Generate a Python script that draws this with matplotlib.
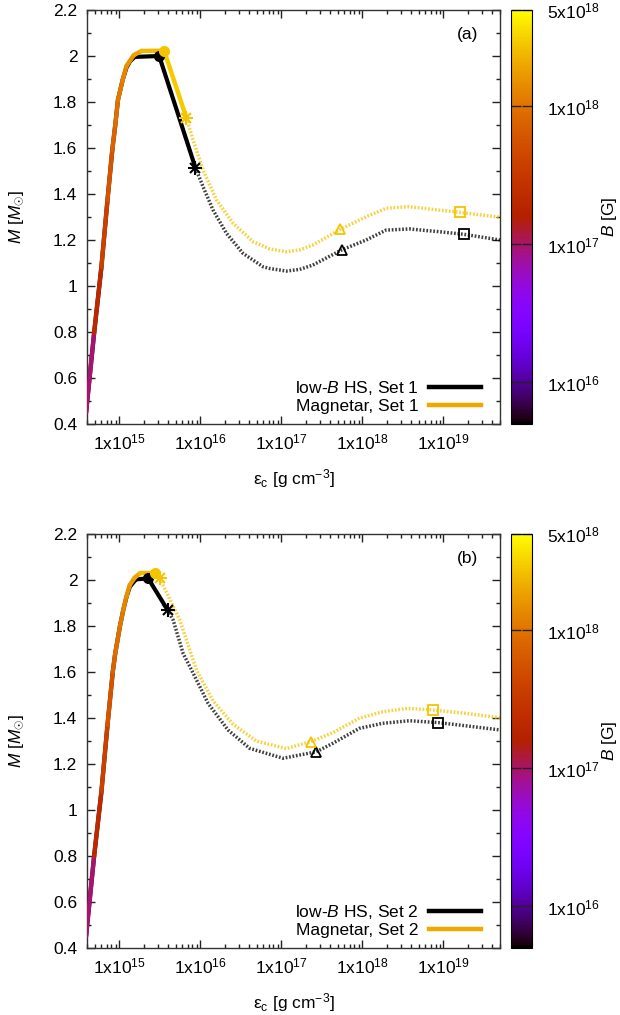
import numpy as np
import matplotlib
matplotlib.use("Agg")
import matplotlib.pyplot as plt
from matplotlib.collections import LineCollection
from matplotlib.colors import LogNorm
from matplotlib.lines import Line2D
from matplotlib.cm import ScalarMappable
import matplotlib.ticker as mticker

plt.rcParams["font.family"] = ["Liberation Sans", "DejaVu Sans"]
plt.rcParams["mathtext.fontset"] = "custom"
plt.rcParams["mathtext.rm"] = "Liberation Sans"
plt.rcParams["mathtext.it"] = "Liberation Sans:italic"
plt.rcParams["mathtext.bf"] = "Liberation Sans:bold"

# ---------------- panel (a): Set 1 ----------------
a_hs_stable_logeps = [14.59, 14.69, 14.78, 14.855, 14.914, 14.951, 14.984, 15.042, 15.09, 15.132, 15.19, 15.493, 15.941]
a_hs_stable_M = [0.448, 0.796, 1.083, 1.374, 1.591, 1.700, 1.809, 1.896, 1.950, 1.976, 1.996, 2.000, 1.513]
a_mag_stable_logeps = [14.59, 14.69, 14.78, 14.855, 14.914, 14.951, 14.984, 15.042, 15.09, 15.18, 15.276, 15.554, 15.83]
a_mag_stable_M = [0.448, 0.796, 1.083, 1.374, 1.591, 1.700, 1.809, 1.896, 1.957, 2.004, 2.022, 2.023, 1.730]
a_mag_stable_B = [6e16, 1.5e17, 3e17, 5e17, 7e17, 8.5e17, 1e18, 1.2e18, 1.4e18, 1.7e18, 2.1e18, 2.8e18, 3.2e18]

a_hs_unstable_logeps = [15.941, 16.034, 16.158, 16.323, 16.527, 16.773, 16.858, 17.062, 17.225, 17.389, 17.746, 18.047, 18.293, 18.58, 18.95, 19.249, 19.70]
a_hs_unstable_M = [1.513, 1.432, 1.330, 1.229, 1.142, 1.084, 1.076, 1.065, 1.072, 1.091, 1.157, 1.200, 1.243, 1.248, 1.236, 1.225, 1.200]
a_mag_unstable_logeps = [15.83, 15.911, 16.034, 16.2, 16.404, 16.65, 16.858, 17.062, 17.225, 17.389, 17.727, 18.047, 18.293, 18.571, 18.95, 19.208, 19.70]
a_mag_unstable_M = [1.730, 1.635, 1.504, 1.374, 1.273, 1.193, 1.161, 1.149, 1.157, 1.178, 1.246, 1.301, 1.338, 1.345, 1.330, 1.320, 1.299]

# markers: maximum mass, end of stable branch, triangle, square
a_hs_marks_logeps = [15.493, 15.941, 17.746, 19.249]
a_hs_marks_M = [2.000, 1.513, 1.157, 1.225]
a_mag_marks_logeps = [15.554, 15.83, 17.727, 19.208]
a_mag_marks_M = [2.023, 1.730, 1.246, 1.320]

# ---------------- panel (b): Set 2 ----------------
b_hs_stable_logeps = [14.59, 14.69, 14.78, 14.855, 14.92, 14.95, 15.009, 15.05, 15.09, 15.13, 15.19, 15.214, 15.357, 15.596]
b_hs_stable_M = [0.45, 0.80, 1.08, 1.37, 1.60, 1.68, 1.80, 1.87, 1.927, 1.97, 1.996, 2.003, 2.007, 1.870]
b_mag_stable_logeps = [14.59, 14.69, 14.78, 14.855, 14.92, 14.95, 15.009, 15.05, 15.09, 15.13, 15.19, 15.255, 15.44, 15.50]
b_mag_stable_M = [0.45, 0.80, 1.08, 1.37, 1.60, 1.68, 1.80, 1.87, 1.93, 1.978, 2.01, 2.029, 2.029, 2.007]
b_mag_stable_B = [6e16, 1.5e17, 3e17, 5e17, 7e17, 8.5e17, 1e18, 1.2e18, 1.4e18, 1.6e18, 1.8e18, 2.2e18, 2.8e18, 3.0e18]

b_hs_unstable_logeps = [15.596, 15.665, 15.788, 15.892, 16.096, 16.342, 16.61, 17.02, 17.431, 17.636, 17.964, 18.25, 18.58, 18.937, 19.28, 19.70]
b_hs_unstable_M = [1.870, 1.826, 1.681, 1.609, 1.464, 1.348, 1.268, 1.225, 1.253, 1.290, 1.355, 1.377, 1.388, 1.380, 1.366, 1.348]
b_mag_unstable_logeps = [15.50, 15.747, 15.953, 16.158, 16.404, 16.692, 17.062, 17.361, 17.636, 17.964, 18.25, 18.559, 18.867, 19.28, 19.70]
b_mag_unstable_M = [2.007, 1.826, 1.609, 1.474, 1.373, 1.300, 1.267, 1.297, 1.336, 1.399, 1.427, 1.442, 1.435, 1.420, 1.401]

b_hs_marks_logeps = [15.357, 15.596, 17.431, 18.937]
b_hs_marks_M = [2.007, 1.870, 1.253, 1.380]
b_mag_marks_logeps = [15.44, 15.50, 17.361, 18.867]
b_mag_marks_M = [2.029, 2.007, 1.297, 1.435]

# ---------------- axis / colour bar settings ----------------
x_limits = (4e14, 5e19)
y_limits = (0.4, 2.2)
x_ticks = [1e15, 1e16, 1e17, 1e18, 1e19]
x_ticklabels = ["1x10$^{15}$", "1x10$^{16}$", "1x10$^{17}$", "1x10$^{18}$", "1x10$^{19}$"]
b_limits = (5e15, 5e18)
cb_ticks = [1e16, 1e17, 1e18, 5e18]
cb_ticklabels = ["1x10$^{16}$", "1x10$^{17}$", "1x10$^{18}$", "5x10$^{18}$"]

HS_COLOR = "black"
MAG_COLOR = "#f4c400"
LEGEND_MAG_COLOR = "#f0a800"
FS = 12.5
cmap = plt.get_cmap("gnuplot")
norm = LogNorm(*b_limits)

W, H = 620, 1015
fig = plt.figure(figsize=(W / 100, H / 100), dpi=100)


def px_axes(left, top, right, bottom):
    return [left / W, 1 - bottom / H, (right - left) / W, (bottom - top) / H]


def draw_panel(ax, cax, tag, set_name,
               hs_s_x, hs_s_y, mag_s_x, mag_s_y, mag_s_b,
               hs_u_x, hs_u_y, mag_u_x, mag_u_y,
               hs_m_x, hs_m_y, mag_m_x, mag_m_y):
    hs_s_x = 10.0 ** np.array(hs_s_x)
    mag_s_x = 10.0 ** np.array(mag_s_x)
    hs_u_x = 10.0 ** np.array(hs_u_x)
    mag_u_x = 10.0 ** np.array(mag_u_x)
    hs_m_x = 10.0 ** np.array(hs_m_x)
    mag_m_x = 10.0 ** np.array(mag_m_x)

    dots = (0, (0.5, 0.5))
    ax.plot(hs_u_x, hs_u_y, color=HS_COLOR, lw=2.5, ls=dots, alpha=0.75, zorder=2)
    ax.plot(mag_u_x, mag_u_y, color=MAG_COLOR, lw=2.5, ls=dots, alpha=0.75, zorder=2)

    ax.plot(hs_s_x, hs_s_y, color=HS_COLOR, lw=3.0, zorder=3, solid_capstyle="round")

    pts = np.column_stack([mag_s_x, mag_s_y])
    segs = np.stack([pts[:-1], pts[1:]], axis=1)
    seg_b = np.sqrt(np.array(mag_s_b[:-1]) * np.array(mag_s_b[1:]))
    lc = LineCollection(segs, cmap=cmap, norm=norm, linewidths=3.2,
                        capstyle="round", joinstyle="round", zorder=4)
    lc.set_array(seg_b)
    ax.add_collection(lc)

    for col, mx, my, z in ((HS_COLOR, hs_m_x, hs_m_y, 5), (MAG_COLOR, mag_m_x, mag_m_y, 6)):
        ax.plot(mx[0], my[0], "o", color=col, ms=7, zorder=z)
        ax.plot(mx[1], my[1], "+", color=col, ms=10, mew=1.5, zorder=z)
        ax.plot(mx[1], my[1], "x", color=col, ms=7, mew=1.5, zorder=z)
        ax.plot(mx[2], my[2], "^", mfc="none", mec=col, ms=7.5, mew=1.3, zorder=z)
        ax.plot(mx[3], my[3], "s", mfc="none", mec=col, ms=7, mew=1.3, zorder=z)

    ax.set_xscale("log")
    ax.set_xlim(*x_limits)
    ax.set_ylim(*y_limits)
    ax.set_xticks(x_ticks)
    ax.set_xticklabels(x_ticklabels)
    ax.xaxis.set_minor_locator(mticker.LogLocator(base=10, subs=np.arange(2, 10), numticks=20))
    ax.xaxis.set_minor_formatter(mticker.NullFormatter())
    ax.yaxis.set_major_locator(mticker.MultipleLocator(0.2))
    ax.yaxis.set_minor_locator(mticker.MultipleLocator(0.1))
    ax.yaxis.set_major_formatter(mticker.FuncFormatter(lambda v, p: f"{v:g}"))
    ax.tick_params(which="both", direction="in", top=True, right=True, width=1.0, color="#222222")
    ax.tick_params(which="major", length=6, labelsize=FS)
    ax.tick_params(which="minor", length=3)
    ax.tick_params(axis="x", which="major", pad=6)
    ax.tick_params(axis="y", which="major", pad=7)
    for s in ax.spines.values():
        s.set_color("#333333")
        s.set_linewidth(1.0)

    ax.set_xlabel("ε$_{\\rm c}$ [g cm$^{-3}$]", fontsize=FS)
    ax.xaxis.set_label_coords(0.5, -0.105)
    ax.set_ylabel("$M$ [$M_{\\odot}$]", fontsize=FS)
    ax.yaxis.set_label_coords(-0.148, 0.5)

    ax.text(0.922, 0.94, tag, transform=ax.transAxes, fontsize=FS, ha="center", va="center")

    handles = [Line2D([], [], color=HS_COLOR, lw=3.2),
               Line2D([], [], color=LEGEND_MAG_COLOR, lw=3.2)]
    labels = ["low-$B$ HS, " + set_name, "Magnetar, " + set_name]
    ax.legend(handles, labels, loc="lower right", bbox_to_anchor=(1 - 19 / 413, 10 / 414),
              frameon=False, markerfirst=False, fontsize=FS, handlelength=3.0,
              handletextpad=0.6, labelspacing=0.1, borderpad=0, borderaxespad=0)

    sm = ScalarMappable(norm=norm, cmap=cmap)
    cb = fig.colorbar(sm, cax=cax)
    cb.set_ticks(cb_ticks)
    cb.set_ticklabels(cb_ticklabels)
    cb.ax.minorticks_off()
    cb.ax.tick_params(direction="in", length=7, width=1.0, left=True, right=True,
                      labelsize=FS, pad=11, color="#222222")
    cb.outline.set_linewidth(0.8)
    cb.ax.set_ylabel("$B$ [G]", fontsize=FS, rotation=90)
    cb.ax.yaxis.set_label_coords(4.25, 0.5)


ax_a = fig.add_axes(px_axes(87, 10, 500, 424))
cax_a = fig.add_axes(px_axes(511, 10, 532, 424))
ax_b = fig.add_axes(px_axes(87, 534, 500, 948))
cax_b = fig.add_axes(px_axes(511, 534, 532, 948))

draw_panel(ax_a, cax_a, "(a)", "Set 1",
           a_hs_stable_logeps, a_hs_stable_M, a_mag_stable_logeps, a_mag_stable_M, a_mag_stable_B,
           a_hs_unstable_logeps, a_hs_unstable_M, a_mag_unstable_logeps, a_mag_unstable_M,
           a_hs_marks_logeps, a_hs_marks_M, a_mag_marks_logeps, a_mag_marks_M)
draw_panel(ax_b, cax_b, "(b)", "Set 2",
           b_hs_stable_logeps, b_hs_stable_M, b_mag_stable_logeps, b_mag_stable_M, b_mag_stable_B,
           b_hs_unstable_logeps, b_hs_unstable_M, b_mag_unstable_logeps, b_mag_unstable_M,
           b_hs_marks_logeps, b_hs_marks_M, b_mag_marks_logeps, b_mag_marks_M)

fig.savefig("out.png", dpi=100)
